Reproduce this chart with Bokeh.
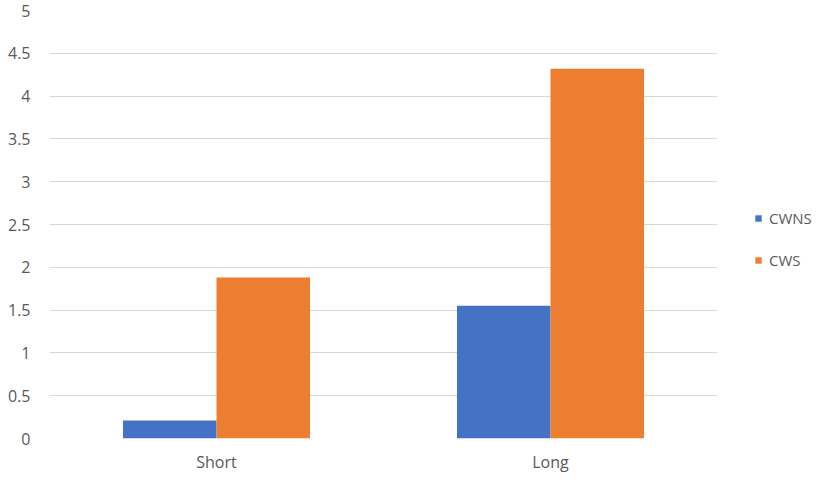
from bokeh.plotting import figure
from bokeh.layouts import row
from bokeh.models import ColumnDataSource, FixedTicker, Legend, LegendItem, Range1d
from bokeh.transform import dodge
from bokeh.embed import file_html
from bokeh.resources import INLINE

categories = ["Short", "Long"]
series_names = ["CWNS", "CWS"]
cwns = [0.21, 1.55]
cws = [1.88, 4.32]
y_ticks = [0, 0.5, 1, 1.5, 2, 2.5, 3, 3.5, 4, 4.5, 5]
y_tick_labels = ["0", "0.5", "1", "1.5", "2", "2.5", "3", "3.5", "4", "4.5", "5"]

FONT = "Open Sans"
TEXT_COLOR = "#595959"
COLORS = ["#4472C4", "#ED7D31"]
FIELDS = ["cwns", "cws"]

source = ColumnDataSource(dict(cat=categories, cwns=cwns, cws=cws))

p = figure(x_range=categories, y_range=Range1d(0, 5),
           frame_width=668, frame_height=428, output_backend="svg", toolbar_location=None,
           min_border_left=49, min_border_right=0, min_border_top=10, min_border_bottom=35)
p.outline_line_color = None
p.background_fill_color = "white"
p.border_fill_color = "white"

p.vbar(x=dodge("cat", -0.14, range=p.x_range), top="cwns", width=0.28,
       source=source, fill_color=COLORS[0], line_color=None)
p.vbar(x=dodge("cat", 0.14, range=p.x_range), top="cws", width=0.28,
       source=source, fill_color=COLORS[1], line_color=None)

p.xgrid.grid_line_color = None
p.ygrid.grid_line_color = "#D9D9D9"
p.ygrid.grid_line_width = 1
p.yaxis.ticker = FixedTicker(ticks=y_ticks)
p.yaxis.major_label_overrides = {t: l for t, l in zip(y_ticks, y_tick_labels)}

for ax in (p.xaxis[0], p.yaxis[0]):
    ax.axis_line_color = None
    ax.major_tick_line_color = None
    ax.minor_tick_line_color = None
    ax.major_tick_out = 0
    ax.major_tick_in = 0
    ax.major_label_text_font = FONT
    ax.major_label_text_font_size = "16px"
    ax.major_label_text_color = TEXT_COLOR
p.yaxis.major_label_standoff = 19
p.xaxis.major_label_standoff = 12

# legend panel (same data, hidden renderers used only as legend keys)
pl = figure(width=100, height=473, x_range=categories, y_range=Range1d(0, 5),
            output_backend="svg", toolbar_location=None,
            min_border_left=0, min_border_right=0, min_border_top=0, min_border_bottom=0)
pl.axis.visible = False
pl.grid.visible = False
pl.outline_line_color = None
lr = []
for f, c in zip(FIELDS, COLORS):
    r = pl.vbar(x="cat", top=f, width=0.1, source=source, fill_color=c, line_color=None)
    r.visible = False
    lr.append(r)

legend = Legend(items=[LegendItem(label=n, renderers=[r]) for n, r in zip(series_names, lr)],
                location=(37, 166), orientation="vertical")
legend.glyph_width = 8
legend.glyph_height = 8
legend.label_standoff = 7
legend.label_height = 20
legend.spacing = 22
legend.padding = 0
legend.margin = 0
legend.border_line_color = None
legend.background_fill_alpha = 0
legend.label_text_font = FONT
legend.label_text_font_size = "15px"
legend.label_text_color = TEXT_COLOR
pl.add_layout(legend, "center")

layout = row(p, pl, spacing=0)
open("out.html", "w").write(file_html(layout, INLINE))
